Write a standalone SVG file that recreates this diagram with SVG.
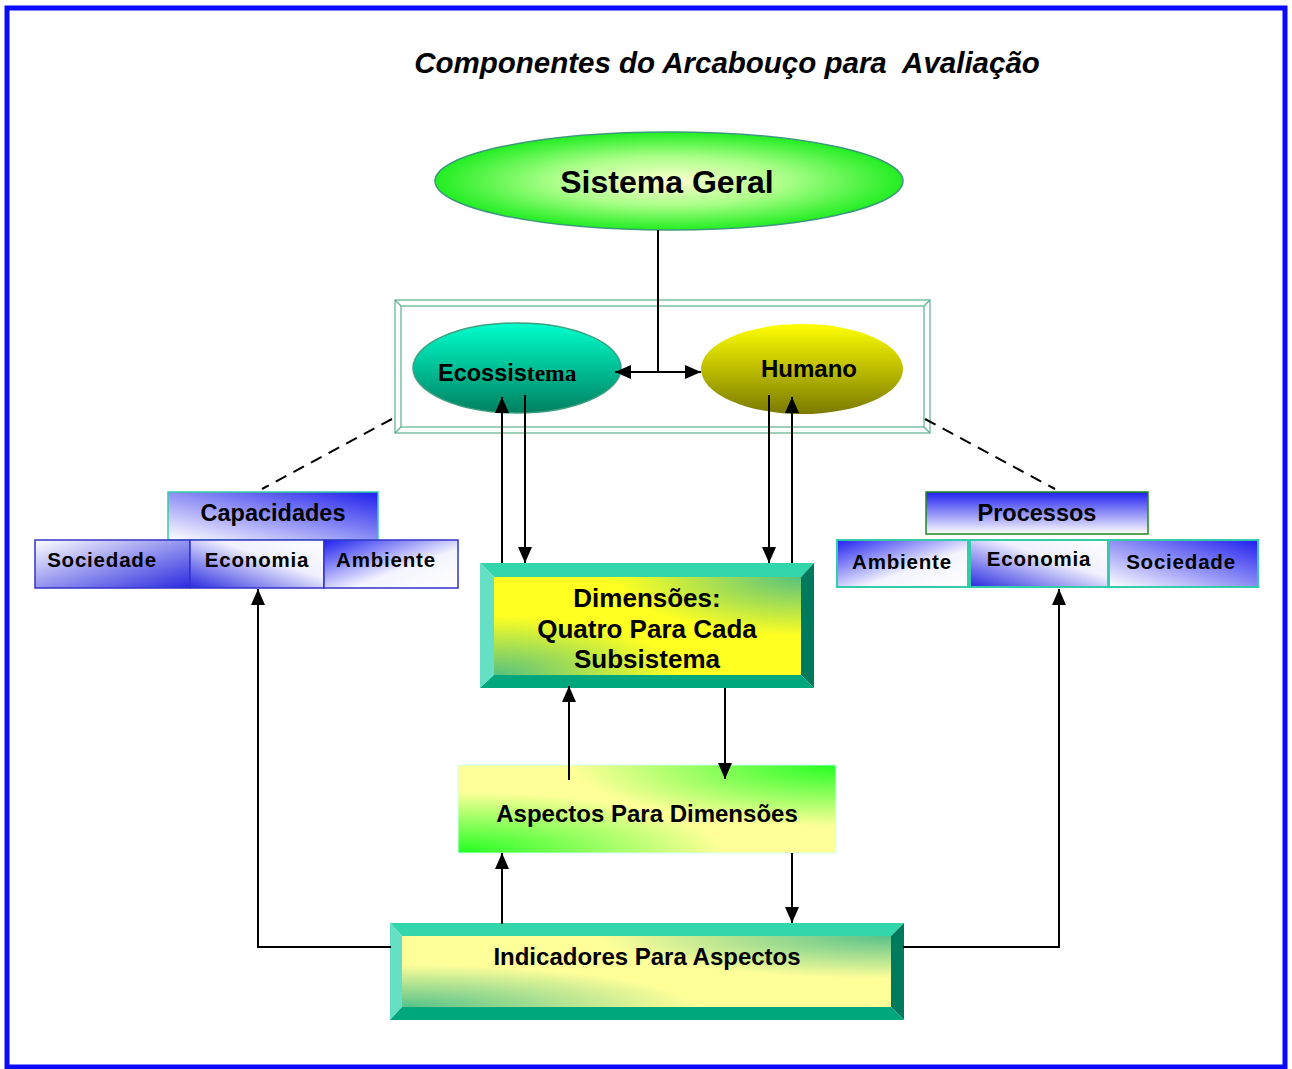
<svg xmlns="http://www.w3.org/2000/svg" width="1292" height="1069" viewBox="0 0 1292 1069">
  <style>
    .t { font-family: "Liberation Sans", Arial, sans-serif; font-weight: bold; fill: #000; text-anchor: middle; }
    .conn { stroke: #000; stroke-width: 2; fill: none; }
    .dash { stroke: #000; stroke-width: 2; fill: none; stroke-dasharray: 12 8; }
    .frame { fill: none; stroke: #5cb08c; stroke-width: 1.2; }
    .bl { stroke: #3333cc; stroke-width: 1.5; }
    .tl { stroke: #33ccaa; stroke-width: 2; }
    .tab { font-size: 20.5px; letter-spacing: 0.8px; }
  </style>
  <defs>
    <marker id="arr" viewBox="0 0 16 14" refX="16" refY="7" markerWidth="16" markerHeight="14" markerUnits="userSpaceOnUse" orient="auto-start-reverse">
      <path d="M0,0 L16,7 L0,14 z" fill="#000"/>
    </marker>
    <radialGradient id="gSis" cx="0.5" cy="0.5" r="0.5">
      <stop offset="0" stop-color="#ffffd0"/>
      <stop offset="0.5" stop-color="#aaff88"/>
      <stop offset="1" stop-color="#22ee22"/>
    </radialGradient>
    <linearGradient id="gEco" x1="0" y1="0" x2="0" y2="1">
      <stop offset="0" stop-color="#00ffcc"/>
      <stop offset="1" stop-color="#008060"/>
    </linearGradient>
    <linearGradient id="gHum" x1="0" y1="0" x2="0" y2="1">
      <stop offset="0" stop-color="#ffff00"/>
      <stop offset="1" stop-color="#7a7a00"/>
    </linearGradient>
    <!-- blue tab gradients -->
    <linearGradient id="gBlueTR" x1="0" y1="1" x2="1" y2="0">
      <stop offset="0" stop-color="#ffffff"/>
      <stop offset="1" stop-color="#1f1fee"/>
    </linearGradient>
    <linearGradient id="gBlueBR" x1="0" y1="0" x2="1" y2="1">
      <stop offset="0" stop-color="#ffffff"/>
      <stop offset="1" stop-color="#2a2ae0"/>
    </linearGradient>
    <linearGradient id="gBlueBL" x1="1" y1="0" x2="0" y2="1">
      <stop offset="0" stop-color="#ffffff"/>
      <stop offset="0.4" stop-color="#f0f0ff"/>
      <stop offset="1" stop-color="#2a2ae0"/>
    </linearGradient>
    <linearGradient id="gBlueTL" x1="0" y1="0" x2="1" y2="1">
      <stop offset="0" stop-color="#2020f0"/>
      <stop offset="0.6" stop-color="#f4f4ff"/>
      <stop offset="1" stop-color="#ffffff"/>
    </linearGradient>
    <linearGradient id="gBlueTop" x1="0" y1="0" x2="0" y2="1">
      <stop offset="0" stop-color="#2020f0"/>
      <stop offset="1" stop-color="#ffffff"/>
    </linearGradient>
    <!-- corner tints for yellow faces -->
    <radialGradient id="gCornTR" cx="1" cy="0" r="0.6">
      <stop offset="0" stop-color="#44bb88" stop-opacity="0.9"/>
      <stop offset="1" stop-color="#44bb88" stop-opacity="0"/>
    </radialGradient>
    <radialGradient id="gCornBL" cx="0" cy="1" r="0.6">
      <stop offset="0" stop-color="#44bb88" stop-opacity="0.9"/>
      <stop offset="1" stop-color="#44bb88" stop-opacity="0"/>
    </radialGradient>
    <radialGradient id="gGrnTR" cx="1" cy="0" r="0.7">
      <stop offset="0" stop-color="#22ff22"/>
      <stop offset="1" stop-color="#22ff22" stop-opacity="0"/>
    </radialGradient>
    <radialGradient id="gGrnBL" cx="0" cy="1" r="0.7">
      <stop offset="0" stop-color="#22ff22"/>
      <stop offset="1" stop-color="#22ff22" stop-opacity="0"/>
    </radialGradient>
  </defs>

  <rect width="1292" height="1069" fill="#ffffff"/>
  <!-- page border -->
  <rect x="7" y="8" width="1278" height="1059" fill="none" stroke="#0a0aff" stroke-width="5"/>

  <text x="727" y="73" class="t" style="font-style:italic;font-size:29.5px;white-space:pre">Componentes do Arcabouço para  Avaliação</text>

  <g id="sistema-geral">
    <ellipse cx="669" cy="181" rx="234" ry="49" fill="url(#gSis)" stroke="#3a9a7a" stroke-width="1.5"/>
    <text x="667" y="193" class="t" style="font-size:32px">Sistema Geral</text>
  </g>

  <g id="subsistemas-frame">
    <rect class="frame" x="395" y="300" width="535" height="133"/>
    <rect class="frame" x="401" y="306" width="523" height="121"/>
    <path class="frame" d="M395,300 L401,306 M930,300 L924,306 M395,433 L401,427 M930,433 L924,427"/>
  </g>

  <g id="ecossistema">
    <ellipse cx="517" cy="368" rx="104" ry="45" fill="url(#gEco)" stroke="#3aa080" stroke-width="1.5"/>
    <text x="438" y="381" style="font-family:'Liberation Sans',Arial,sans-serif;font-weight:bold;font-size:23.5px">Ecossis<tspan style="font-family:'Liberation Serif','Times New Roman',serif">tema</tspan></text>
  </g>

  <g id="humano">
    <ellipse cx="802" cy="369" rx="101" ry="45" fill="url(#gHum)"/>
    <text x="809" y="377" class="t" style="font-size:24px">Humano</text>
  </g>

  <g id="capacidades">
    <rect x="168" y="492" width="210" height="48" fill="url(#gBlueTR)" stroke="#33ccaa" stroke-width="1.5"/>
    <text x="273" y="521" class="t" style="font-size:23.5px">Capacidades</text>
  </g>
  <g id="cap-sociedade">
    <rect x="35" y="540" width="155" height="48" fill="url(#gBlueBR)" class="bl"/>
    <text x="102" y="567" class="t tab">Sociedade</text>
  </g>
  <g id="cap-economia">
    <rect x="190" y="540" width="134" height="48" fill="url(#gBlueBL)" class="bl"/>
    <text x="257" y="567" class="t tab">Economia</text>
  </g>
  <g id="cap-ambiente">
    <rect x="324" y="540" width="134" height="48" fill="url(#gBlueTL)" class="bl"/>
    <text x="386" y="567" class="t tab">Ambiente</text>
  </g>

  <g id="processos">
    <rect x="926" y="492" width="222" height="42" fill="url(#gBlueTop)" stroke="#228822" stroke-width="1.5"/>
    <text x="1037" y="521" class="t" style="font-size:23.5px">Processos</text>
  </g>
  <g id="proc-ambiente">
    <rect x="837" y="540" width="131" height="47" fill="url(#gBlueTL)" class="tl"/>
    <text x="902" y="569" class="t tab">Ambiente</text>
  </g>
  <g id="proc-economia">
    <rect x="970" y="540" width="138" height="47" fill="url(#gBlueBL)" class="tl"/>
    <text x="1039" y="566" class="t tab">Economia</text>
  </g>
  <g id="proc-sociedade">
    <rect x="1109" y="540" width="149" height="47" fill="url(#gBlueTR)" class="tl"/>
    <text x="1181" y="569" class="t tab">Sociedade</text>
  </g>

  <g id="dimensoes">
    <rect x="494" y="577" width="307" height="98" fill="#ffff22"/>
    <rect x="494" y="577" width="307" height="98" fill="url(#gCornTR)"/>
    <rect x="494" y="577" width="307" height="98" fill="url(#gCornBL)"/>
    <polygon points="480,563 814,563 801,577 494,577" fill="#33d6aa"/>
    <polygon points="480,563 494,577 494,675 480,688" fill="#66e0c4"/>
    <polygon points="814,563 814,688 801,675 801,577" fill="#007a5c"/>
    <polygon points="480,688 494,675 801,675 814,688" fill="#00a67c"/>
    <text x="647" y="607" class="t" style="font-size:26px">Dimensões:</text>
    <text x="647" y="638" class="t" style="font-size:26px">Quatro Para Cada</text>
    <text x="647" y="668" class="t" style="font-size:26px">Subsistema</text>
  </g>

  <g id="aspectos">
    <rect x="458" y="765" width="378" height="88" fill="#ffff99"/>
    <rect x="458" y="765" width="378" height="88" fill="url(#gGrnTR)"/>
    <rect x="458" y="765" width="378" height="88" fill="url(#gGrnBL)" stroke="#ccffff" stroke-width="1"/>
    <text x="647" y="822" class="t" style="font-size:24px">Aspectos Para Dimensões</text>
  </g>

  <g id="indicadores">
    <rect x="402" y="936" width="489" height="71" fill="#ffff99"/>
    <rect x="402" y="936" width="489" height="71" fill="url(#gCornTR)"/>
    <rect x="402" y="936" width="489" height="71" fill="url(#gCornBL)"/>
    <polygon points="390,923 904,923 891,936 402,936" fill="#33d6aa"/>
    <polygon points="390,923 402,936 402,1007 390,1020" fill="#66e0c4"/>
    <polygon points="904,923 904,1020 891,1007 891,936" fill="#007a5c"/>
    <polygon points="390,1020 402,1007 891,1007 904,1020" fill="#00a67c"/>
    <text x="647" y="965" class="t" style="font-size:24px">Indicadores Para Aspectos</text>
  </g>

  <!-- connectors drawn over the shapes -->
  <g id="connectors">
    <line class="dash" x1="392" y1="419" x2="262" y2="489"/>
    <line class="dash" x1="925" y1="419" x2="1055" y2="489"/>
    <polyline class="conn" points="658,230 658,372"/>
    <line class="conn" x1="615" y1="372" x2="701" y2="372" marker-start="url(#arr)" marker-end="url(#arr)"/>
    <line class="conn" x1="502" y1="563" x2="502" y2="397" marker-end="url(#arr)"/>
    <line class="conn" x1="525" y1="395" x2="525" y2="563" marker-end="url(#arr)"/>
    <line class="conn" x1="769" y1="395" x2="769" y2="563" marker-end="url(#arr)"/>
    <line class="conn" x1="792" y1="563" x2="792" y2="397" marker-end="url(#arr)"/>
    <line class="conn" x1="569" y1="780" x2="569" y2="686" marker-end="url(#arr)"/>
    <line class="conn" x1="725" y1="688" x2="725" y2="779" marker-end="url(#arr)"/>
    <line class="conn" x1="502" y1="924" x2="502" y2="853" marker-end="url(#arr)"/>
    <line class="conn" x1="792" y1="853" x2="792" y2="923" marker-end="url(#arr)"/>
    <polyline class="conn" points="391,947 258,947 258,589" marker-end="url(#arr)"/>
    <polyline class="conn" points="903,947 1059,947 1059,589" marker-end="url(#arr)"/>
  </g>
</svg>
